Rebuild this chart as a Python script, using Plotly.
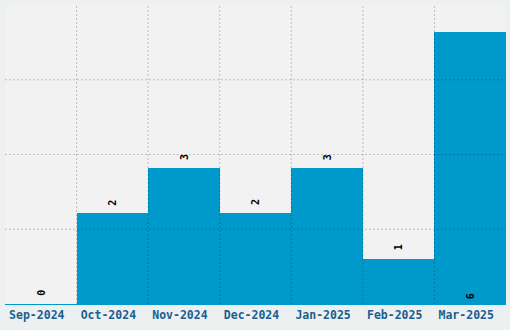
import plotly.graph_objects as go

categories = ["Sep-2024", "Oct-2024", "Nov-2024", "Dec-2024", "Jan-2025", "Feb-2025", "Mar-2025"]
values = [0, 2, 3, 2, 3, 1, 6]
label_inside = [False, False, False, False, False, False, True]

y_max = 6.6
y_grid = [y_max / 4 * k for k in (1, 2, 3)]

BAR = "#0099cc"
GRID = "rgba(0,0,0,0.22)"

fig = go.Figure()
fig.add_trace(go.Bar(
    x=categories, y=values,
    marker=dict(color=BAR, line=dict(width=0)),
    hoverinfo="skip",
))

annotations = []
for c, v, ins in zip(categories, values, label_inside):
    annotations.append(dict(
        x=c, y=0 if ins else v, xref="x", yref="y",
        text=str(v), showarrow=False, textangle=-90,
        yanchor="bottom", xanchor="center",
        yshift=3 if ins else 6,
        font=dict(family="DejaVu Sans Mono", size=10, color="black", weight="bold"),
    ))

shapes = []
for yv in y_grid:
    shapes.append(dict(type="line", xref="paper", yref="y", x0=0, x1=1, y0=yv, y1=yv,
                       line=dict(color=GRID, width=1, dash="2px,2px"), layer="above"))
for i in range(1, len(categories)):
    shapes.append(dict(type="line", xref="x", yref="paper", x0=i - 0.5, x1=i - 0.5, y0=0, y1=1,
                       line=dict(color=GRID, width=1, dash="2px,2px"), layer="above"))

fig.update_layout(
    width=510, height=330,
    margin=dict(l=5, r=4, t=5, b=26),
    paper_bgcolor="#ecf0f1",
    plot_bgcolor="#f2f2f2",
    bargap=0,
    showlegend=False,
    shapes=shapes,
    annotations=annotations,
    xaxis=dict(
        showgrid=False, showline=True, linecolor=BAR, linewidth=1,
        ticks="", ticklabelshift=-4,
        tickfont=dict(family="DejaVu Sans Mono", size=11.5, color="#1b5e8f", weight="bold"),
        fixedrange=True,
    ),
    yaxis=dict(
        range=[0, y_max], showgrid=False, showticklabels=False, zeroline=False,
        ticks="", fixedrange=True,
    ),
)

fig.write_html("out.html")
